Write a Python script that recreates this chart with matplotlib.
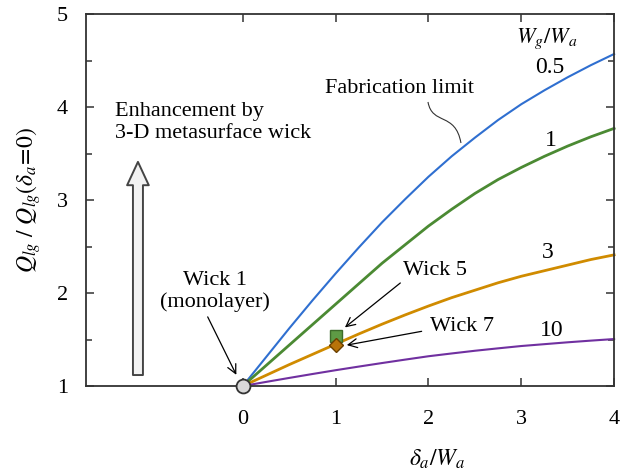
import numpy as np
import matplotlib
matplotlib.use("Agg")
from matplotlib import pyplot as plt
from matplotlib.ticker import MultipleLocator
from matplotlib.path import Path
from matplotlib.patches import PathPatch

plt.rcParams['font.family'] = ['Liberation Serif', 'DejaVu Serif']
plt.rcParams['mathtext.fontset'] = 'stix'

# delta_a / W_a
x = [0, 0.25, 0.5, 0.75, 1, 1.25, 1.5, 1.75, 2, 2.25, 2.5, 2.75, 3, 3.25, 3.5, 3.75, 4]

# Q_lg / Q_lg(delta_a = 0) for each W_g / W_a
q_05 = [1.0, 1.31, 1.62, 1.92, 2.21, 2.49, 2.76, 3.01, 3.25, 3.47, 3.67, 3.86, 4.03, 4.18, 4.32, 4.45, 4.57]
q_1 = [1.0, 1.22, 1.44, 1.66, 1.88, 2.10, 2.32, 2.52, 2.72, 2.90, 3.07, 3.22, 3.35, 3.47, 3.58, 3.68, 3.77]
q_3 = [1.0, 1.115, 1.23, 1.34, 1.45, 1.56, 1.665, 1.765, 1.86, 1.95, 2.03, 2.11, 2.18, 2.24, 2.30, 2.36, 2.41]
q_10 = [1.0, 1.044, 1.087, 1.129, 1.17, 1.209, 1.247, 1.284, 1.32, 1.35, 1.379, 1.405, 1.43, 1.45, 1.47, 1.488, 1.505]

# measured wicks
wick1 = (0, 1.0)
wick5 = (1, 1.54)
wick7 = (1, 1.44)

fig = plt.figure(figsize=(6.34, 4.70), dpi=100)
ax = fig.add_axes([0.1356, 0.1787, 0.833, 0.7915])

ax.plot(x, q_05, color='#2f6fd0', lw=1.5, clip_on=False)
ax.plot(x, q_1, color='#4b8a33', lw=2.0, clip_on=False)
ax.plot(x, q_3, color='#d08b00', lw=2.0, clip_on=False)
ax.plot(x, q_10, color='#7030a0', lw=1.5, clip_on=False)

ax.plot(*wick5, marker='s', ms=9, mfc='#5e9b45', mec='#3d6b2a', mew=1, clip_on=False, zorder=5)
ax.plot(*wick7, marker='D', ms=7, mfc='#b8730a', mec='#6b4000', mew=1, clip_on=False, zorder=6)
ax.plot(*wick1, marker='o', ms=10, mfc='#d9d9d9', mec='#333333', mew=1.3, clip_on=False, zorder=6)

ax.set_xlim(-1.69, 4)
ax.set_ylim(1, 5)
ax.set_xticks([0, 1, 2, 3, 4])
ax.yaxis.set_major_locator(MultipleLocator(1))
ax.yaxis.set_minor_locator(MultipleLocator(0.5))
ax.tick_params(which='both', direction='in', top=True, right=True, width=1.1,
               color='#333333', labelsize=16, pad=13)
ax.tick_params(axis='x', pad=17)
ax.tick_params(which='major', length=6)
ax.tick_params(which='minor', length=4)
for s in ax.spines.values():
    s.set_linewidth(1.3)
    s.set_color('#333333')

ax.set_xlabel(r'$\delta_a/W_a$', fontsize=17)
ax.xaxis.set_label_coords(0.665, -0.165)
ax.set_ylabel(r'$Q_{lg}\ /\ Q_{lg}(\delta_a\!=\!0)$', fontsize=17, labelpad=10)

fs = 16
ax.text(3.27, 4.73, r'$W_g/W_a$', fontsize=16, ha='center', va='center')
ax.text(3.31, 4.43, '0.5', fontsize=17, ha='center', va='center')
ax.text(3.32, 3.645, '1', fontsize=17, ha='center', va='center')
ax.text(3.29, 2.44, '3', fontsize=17, ha='center', va='center')
ax.text(3.33, 1.60, '10', fontsize=17, ha='center', va='center')

ax.text(-1.38, 3.83, 'Enhancement by\n3-D metasurface wick', fontsize=fs,
        ha='left', va='center', linespacing=1.2)
ax.annotate('', xy=(-1.13, 3.41), xytext=(-1.13, 1.118),
            arrowprops=dict(arrowstyle='simple,head_width=1.3,head_length=1.4,tail_width=0.6',
                            fc='#f2f2f2', ec='#444444', lw=1.4, mutation_scale=12,
                            shrinkA=0, shrinkB=0))

# fabrication limit label with an S-shaped leader
ax.text(1.69, 4.20, 'Fabrication limit', fontsize=fs, ha='center', va='center')
leader = Path([(1.995, 4.054), (2.04, 3.80), (2.29, 3.95), (2.35, 3.613)],
              [Path.MOVETO, Path.CURVE4, Path.CURVE4, Path.CURVE4])
ax.add_patch(PathPatch(leader, fc='none', ec='#333333', lw=0.8))

ax.annotate('Wick 1\n(monolayer)', xy=(-0.07, 1.12), xytext=(-0.30, 2.02), fontsize=fs,
            ha='center', va='center', linespacing=1.15,
            arrowprops=dict(arrowstyle='->', lw=0.9, color='black', relpos=(0.41, 0),
                            shrinkA=2, shrinkB=0))
ax.annotate('Wick 5', xy=(1.10, 1.63), xytext=(2.07, 2.24), fontsize=fs,
            ha='center', va='center',
            arrowprops=dict(arrowstyle='->', lw=0.9, color='black', relpos=(0.05, 0.1),
                            shrinkA=0, shrinkB=0))
ax.annotate('Wick 7', xy=(1.12, 1.44), xytext=(2.36, 1.635), fontsize=fs,
            ha='center', va='center',
            arrowprops=dict(arrowstyle='->', lw=0.9, color='black', relpos=(0, 0.35),
                            shrinkA=4, shrinkB=0))

fig.savefig('out.png', dpi=100)
